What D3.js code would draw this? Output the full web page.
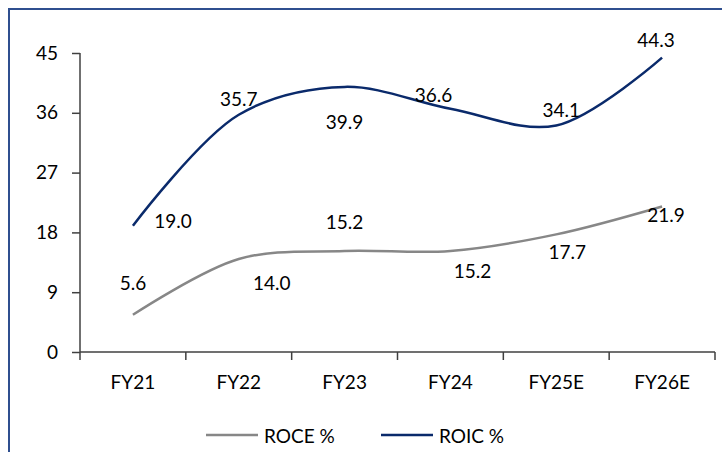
<!DOCTYPE html>
<html>
  <head>
    <meta charset="utf-8" />
    <script src="https://d3js.org/d3.v7.min.js"></script>
    <title>ROCE / ROIC</title>
    <style>
        body { margin: 0; background: #fff; }
        text { font-family: Lato, "Open Sans", sans-serif; font-size: 19px; fill: #000; }
    </style>
  </head>
  <body>

    <svg id="chart" width="722" height="452"></svg>

    <script>
    // data
        var years = ["FY21", "FY22", "FY23", "FY24", "FY25E", "FY26E"];
        var roce = [5.6, 14.0, 15.2, 15.2, 17.7, 21.9];
        var roic = [19.0, 35.7, 39.9, 36.6, 34.1, 44.3];
        var yTicks = [0, 9, 18, 27, 36, 45];

        // label nudges (px) so the numbers sit where the original has them
        var roceLabelOffset = [[0, -32], [33, 24], [0, -30], [22, 19], [11, 17], [4, 8]];
        var roicLabelOffset = [[40, -5], [0, -16], [0, 35], [-17, -14], [5, -16], [-6, -18]];

        var svg = d3.select("#chart");

        // outer frame (runs off the right and bottom edge)
        svg.append("rect")
            .attr("x", 9).attr("y", 9)
            .attr("width", 730).attr("height", 460)
            .attr("fill", "none")
            .attr("stroke", "#2f4f8f")
            .attr("stroke-width", 2);

        var plotLeft = 80, plotRight = 715, plotTop = 53, plotBottom = 352;

        var x = d3.scaleBand().domain(years).range([plotLeft, plotRight]);
        var y = d3.scaleLinear().domain([0, 45]).range([plotBottom, plotTop]);

        // y axis
        var yAxis = svg.append("g")
            .attr("transform", "translate(" + plotLeft + ",0)")
            .call(d3.axisLeft(y).tickValues(yTicks).tickSize(8).tickPadding(14));
        // x axis
        var xAxis = svg.append("g")
            .attr("transform", "translate(0," + plotBottom + ")")
            .call(d3.axisBottom(x).tickSize(0).tickPadding(24));

        // ticks between categories, like excel
        xAxis.selectAll(".between")
            .data(years.concat(["end"]))
            .enter().append("line")
            .attr("class", "between")
            .attr("x1", function(d, i){ return plotLeft + i * x.step(); })
            .attr("x2", function(d, i){ return plotLeft + i * x.step(); })
            .attr("y1", 0).attr("y2", 8);

        svg.selectAll(".domain, .tick line, .between")
            .attr("stroke", "#404040")
            .attr("stroke-width", 1.5);
        xAxis.select(".domain").attr("d", "M" + plotLeft + ",0H" + plotRight);
        yAxis.select(".domain").attr("d", "M0," + plotTop + "V" + plotBottom);
        svg.selectAll(".tick text")
            .style("font-family", "Lato, sans-serif")
            .style("font-size", "19px")
            .attr("fill", "#000");

        var line = d3.line()
            .x(function(d, i){ return x(years[i]) + x.bandwidth() / 2; })
            .y(function(d){ return y(d); })
            .curve(d3.curveCatmullRom.alpha(0.5));

        var series = [
            { name: "ROCE %", values: roce, color: "#878787", offs: roceLabelOffset },
            { name: "ROIC %", values: roic, color: "#0a2a6b", offs: roicLabelOffset }
        ];

        series.forEach(function(s, k){
            svg.append("path")
                .attr("d", line(s.values))
                .attr("fill", "none")
                .attr("stroke", s.color)
                .attr("stroke-width", 2.5);

            svg.selectAll(".lbl" + k)
                .data(s.values)
                .enter().append("text")
                .attr("class", "lbl" + k)
                .attr("x", function(d, i){ return x(years[i]) + x.bandwidth() / 2 + s.offs[i][0]; })
                .attr("y", function(d, i){ return y(d) + s.offs[i][1]; })
                .attr("text-anchor", "middle")
                .attr("dominant-baseline", "central")
                .text(function(d){ return d.toFixed(1); });
        });

        // legend
        var legendX = [206, 381];
        series.forEach(function(s, i){
            var g = svg.append("g").attr("transform", "translate(" + legendX[i] + ",435)");
            g.append("line")
                .attr("x1", 0).attr("x2", 52)
                .attr("stroke", s.color)
                .attr("stroke-width", 2.5);
            g.append("text")
                .attr("x", 58)
                .attr("dominant-baseline", "central")
                .text(s.name);
        });
    </script>

  </body>
</html>
